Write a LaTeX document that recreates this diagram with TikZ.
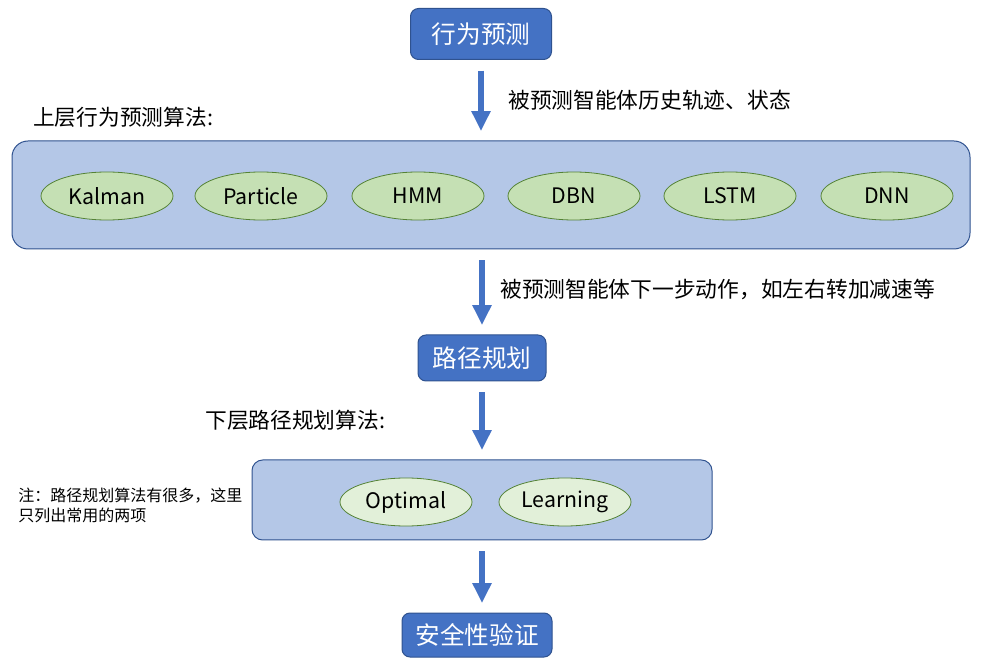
\documentclass[tikz,border=0pt]{standalone}
\usepackage{fontspec}
\setmainfont{Noto Sans CJK SC}
\usetikzlibrary{shapes.geometric,arrows.meta}
\definecolor{stageblue}{HTML}{4472C4}
\definecolor{stageedge}{HTML}{2F528F}
\definecolor{panelfill}{HTML}{B4C7E7}
\definecolor{algfill}{HTML}{C5E0B4}
\definecolor{algfilllight}{HTML}{E2F0D9}
\definecolor{algedge}{HTML}{548235}
\tikzset{
  stagebox/.style={draw=stageedge, fill=stageblue, line width=0.75pt, rounded corners=6pt, text=white, font=\fontsize{18.5}{20}\selectfont, inner sep=0pt},
  panel/.style={draw=stageedge, fill=panelfill, line width=0.75pt, inner sep=0pt},
  alg/.style={ellipse, draw=algedge, fill=algfill, line width=0.6pt, minimum width=99pt, minimum height=36pt, inner sep=0pt, font=\fontsize{16}{18}\selectfont},
  flow/.style={stageblue, line width=4.5pt, -{Triangle[width=13.5pt,length=15pt]}, shorten <=8pt, shorten >=7pt},
  note/.style={font=\fontsize{16.3}{19}\selectfont, anchor=west, inner sep=0pt}
}
\begin{document}
\begin{tikzpicture}[x=0.75pt,y=-0.75pt]
\useasboundingbox (0,0) rectangle (983,670);
% stages and panels
\node[stagebox, minimum width=105.75pt, minimum height=38.25pt] (predict) at (481,34) {行为预测};
\node[panel, rounded corners=12pt, minimum width=718.5pt, minimum height=81pt] (upper) at (491,195) {};
\foreach \name/\x in {Kalman/107, Particle/261, HMM/418, DBN/574, LSTM/730, DNN/887}
   \node[alg] (\name) at (\x,196) {\name};
\node[stagebox, minimum width=96pt, minimum height=34.5pt] (plan) at (482,358) {路径规划};
\node[panel, rounded corners=8pt, minimum width=345pt, minimum height=60pt] (lower) at (482,500) {};
\node[alg, fill=algfilllight] (Optimal) at (406,502) {Optimal};
\node[alg, fill=algfilllight] (Learning) at (565,502) {Learning};
\node[stagebox, minimum width=112.5pt, minimum height=33pt] (verify) at (477,635) {安全性验证};
% arrows
\draw[flow] (predict.south) -- (predict.south |- upper.north);
\draw[flow] (plan.north |- upper.south) -- (plan.north);
\draw[flow] (plan.south) -- (plan.south |- lower.north);
\draw[flow] (lower.south) -- (lower.south |- verify.north);
% labels
\node[note] (histlabel) at (508,100) {被预测智能体历史轨迹、状态};
\node[note] (upperlabel) at (33,117) {上层行为预测算法:};
\node[note] (nextlabel) at (500,289) {被预测智能体下一步动作，如左右转加减速等};
\node[note] (lowerlabel) at (205,420) {下层路径规划算法:};
\node[note, font=\fontsize{12}{15}\selectfont, align=left, anchor=north west] (remark) at (18,488) {注：路径规划算法有很多，这里\\只列出常用的两项};
\end{tikzpicture}
\end{document}
